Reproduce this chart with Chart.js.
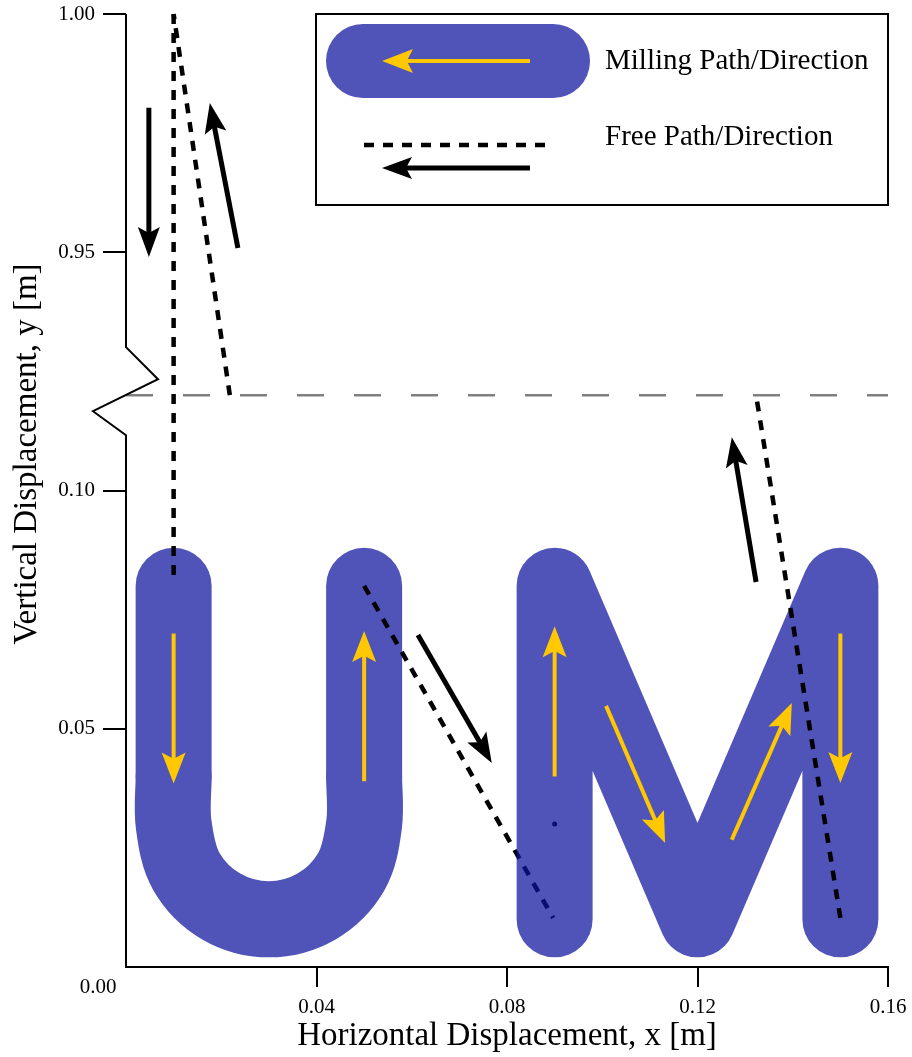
<!DOCTYPE html>
<html lang="en">
<head>
<meta charset="UTF-8">
<title>Milling path</title>
<script src="https://cdn.jsdelivr.net/npm/chart.js@4"></script>
<style>
  html, body { margin: 0; padding: 0; background: #fff; }
  canvas { display: block; }
</style>
</head>
<body>
<canvas id="myChart" width="912" height="1057"></canvas>
<script>
// y axis is broken: nothing is shown between 0.12 m and 0.92 m
const breakLow = 0.12;
const breakHigh = 0.92;

const xTicks = [0.04, 0.08, 0.12, 0.16];
const yTicks = [0.05, 0.10, 0.95, 1.00];

// milling path (x, y) in metres; the U is split into stems and the curved bottom
const uLeft = [[0.01, 0.08], [0.01, 0.04]];
const uBottom = [[0.01, 0.04], [0.01, 0.03], [0.0127, 0.02], [0.02, 0.0127], [0.03, 0.01],
                 [0.04, 0.0127], [0.0473, 0.02], [0.05, 0.03], [0.05, 0.04]];
const uRight = [[0.05, 0.04], [0.05, 0.08]];
const mPath = [[0.09, 0.01], [0.09, 0.08], [0.12, 0.01], [0.15, 0.08], [0.15, 0.01]];

// free (non cutting) moves
const freeDown = [[0.01, 1.00], [0.01, 0.082]];
const freeUtoM = [[0.05, 0.080], [0.0897, 0.0103]];
const freeBackLow = [[0.15, 0.0103], [0.1323, 0.12]];
const freeBackHigh = [[0.0218, 0.92], [0.01, 1.00]];
const strayDot = [[0.09, 0.03]];

// direction arrows: [x0, y0, x1, y1], head at x1/y1
const millArrows = [
  [0.01, 0.070, 0.01, 0.0385],
  [0.05, 0.039, 0.05, 0.0705],
  [0.09, 0.040, 0.09, 0.0715],
  [0.1008, 0.0548, 0.1132, 0.026],
  [0.1272, 0.0267, 0.1398, 0.0554],
  [0.15, 0.070, 0.15, 0.0386]
];
const freeArrows = [
  [0.0048, 0.9803, 0.0048, 0.949],
  [0.0235, 0.9509, 0.0176, 0.9813],
  [0.0613, 0.0697, 0.0768, 0.0428],
  [0.1323, 0.0808, 0.1272, 0.1112]
];

const legendLabels = ['Milling Path/Direction', 'Free Path/Direction'];
const yTitle = 'Vertical Displacement, y [m]';

const millSolid = 'rgb(80, 83, 183)';
const millColor = 'rgba(12, 16, 155, 0.72)';   // same tint on white, lets lines below show through
const arrowYellow = '#ffc800';
const serif = '"Liberation Serif", "DejaVu Serif", serif';

function toPlot(y) { return y >= breakHigh ? y - (breakHigh - breakLow) : y; }
function fromPlot(v) { return v > breakLow + 1e-9 ? v + (breakHigh - breakLow) : v; }
function pts(arr) { return arr.map(([x, y]) => ({ x: x, y: toPlot(y) })); }

function dashed(arr) {
  return { data: pts(arr), showLine: true, borderColor: '#000', borderWidth: 4.5,
           borderDash: [10, 9], pointRadius: 0, clip: false };
}

function milled(arr, color, tension) {
  return { data: pts(arr), showLine: true, borderColor: color, borderWidth: 76, tension: tension || 0,
           borderCapStyle: 'round', borderJoinStyle: 'round', pointRadius: 0, clip: false };
}

function drawArrow(ctx, x0, y0, x1, y1, color, lw, headLen, headW) {
  const len = Math.hypot(x1 - x0, y1 - y0);
  const ux = (x1 - x0) / len, uy = (y1 - y0) / len;
  const px = -uy, py = ux;
  ctx.save();
  ctx.strokeStyle = color;
  ctx.fillStyle = color;
  ctx.lineWidth = lw;
  ctx.lineCap = 'butt';
  ctx.setLineDash([]);
  ctx.beginPath();
  ctx.moveTo(x0, y0);
  ctx.lineTo(x1 - ux * headLen * 0.7, y1 - uy * headLen * 0.7);
  ctx.stroke();
  ctx.beginPath();
  ctx.moveTo(x1, y1);
  ctx.lineTo(x1 - ux * headLen + px * headW / 2, y1 - uy * headLen + py * headW / 2);
  ctx.lineTo(x1 - ux * headLen * 0.8, y1 - uy * headLen * 0.8);
  ctx.lineTo(x1 - ux * headLen - px * headW / 2, y1 - uy * headLen - py * headW / 2);
  ctx.closePath();
  ctx.fill();
  ctx.restore();
}

const extras = {
  id: 'extras',
  afterDatasetsDraw(chart) {
    const ctx = chart.ctx;
    const xs = chart.scales.x, ys = chart.scales.y;
    const X = v => xs.getPixelForValue(v);
    const Y = v => ys.getPixelForValue(toPlot(v));

    millArrows.forEach(a => drawArrow(ctx, X(a[0]), Y(a[1]), X(a[2]), Y(a[3]), arrowYellow, 4, 31, 24));
    freeArrows.forEach(a => drawArrow(ctx, X(a[0]), Y(a[1]), X(a[2]), Y(a[3]), '#000', 5, 30, 22));

    // y axis line with the break zigzag
    const area = chart.chartArea;
    const xb = area.left;
    const yb = ys.getPixelForValue(breakLow);
    ctx.save();
    ctx.strokeStyle = '#000';
    ctx.lineWidth = 2;
    ctx.lineJoin = 'miter';
    ctx.beginPath();
    ctx.moveTo(xb, area.bottom);
    ctx.lineTo(xb, yb + 40);
    ctx.lineTo(xb - 33, yb + 16);
    ctx.lineTo(xb + 32, yb - 16);
    ctx.lineTo(xb, yb - 48);
    ctx.lineTo(xb, area.top);
    ctx.stroke();

    // origin label sits below the corner
    ctx.fillStyle = '#000';
    ctx.font = '21px ' + serif;
    ctx.textAlign = 'center';
    ctx.textBaseline = 'middle';
    ctx.fillText('0.00', xb - 28, area.bottom + 20);

    // y axis title, placed a little above the middle as in the original
    ctx.save();
    ctx.translate(27, 454);
    ctx.rotate(-Math.PI / 2);
    ctx.font = '33px ' + serif;
    ctx.fillText(yTitle, 0, 0);
    ctx.restore();

    // legend
    const lx = 316, ly = area.top, lw = area.right - 316, lh = 191;
    ctx.fillStyle = '#fff';
    ctx.fillRect(lx, ly, lw, lh);
    ctx.lineWidth = 2;
    ctx.strokeRect(lx, ly, lw, lh);

    ctx.strokeStyle = millSolid;
    ctx.lineWidth = 74;
    ctx.lineCap = 'round';
    ctx.beginPath();
    ctx.moveTo(lx + 47, ly + 47);
    ctx.lineTo(lx + 237, ly + 47);
    ctx.stroke();
    drawArrow(ctx, lx + 214, ly + 47, lx + 66, ly + 47, arrowYellow, 4, 31, 24);

    ctx.strokeStyle = '#000';
    ctx.lineWidth = 4.5;
    ctx.lineCap = 'butt';
    ctx.setLineDash([10, 9]);
    ctx.beginPath();
    ctx.moveTo(lx + 48, ly + 131);
    ctx.lineTo(lx + 230, ly + 131);
    ctx.stroke();
    ctx.setLineDash([]);
    drawArrow(ctx, lx + 214, ly + 154, lx + 66, ly + 154, '#000', 5, 30, 22);

    ctx.fillStyle = '#000';
    ctx.font = '29px ' + serif;
    ctx.textAlign = 'left';
    ctx.textBaseline = 'middle';
    ctx.fillText(legendLabels[0], lx + 289, ly + 47);
    ctx.fillText(legendLabels[1], lx + 289, ly + 123);
    ctx.restore();
  }
};

const ctx = document.getElementById('myChart').getContext('2d');
const myChart = new Chart(ctx, {
  type: 'scatter',
  data: {
    datasets: [
      Object.assign(dashed(freeDown), { order: 1 }),
      Object.assign(dashed(freeBackLow), { order: 1 }),
      Object.assign(dashed(freeBackHigh), { order: 1 }),
      { data: [{ x: 0, y: breakLow }, { x: 0.16, y: breakLow }], showLine: true,
        borderColor: '#808080', borderWidth: 2.5, borderDash: [27, 30], pointRadius: 0, order: 2 },
      Object.assign(milled(mPath, millColor), { order: 4 }),
      Object.assign(dashed(freeUtoM), { order: 5 }),
      { data: pts(strayDot), pointRadius: 2.5, pointBackgroundColor: '#000', pointBorderWidth: 0, order: 5 },
      Object.assign(milled(uLeft, millSolid), { order: 6 }),
      Object.assign(milled(uBottom, millSolid, 0.35), { order: 6 }),
      Object.assign(milled(uRight, millSolid), { order: 6 })
    ]
  },
  options: {
    responsive: false,
    animation: false,
    devicePixelRatio: 1,
    layout: { padding: { top: 14, right: 24, left: 0, bottom: 0 } },
    plugins: { legend: { display: false }, tooltip: { enabled: false } },
    scales: {
      x: {
        type: 'linear', min: 0, max: 0.16,
        afterFit: s => { s.height = 90; s.paddingLeft = 0; s.paddingRight = 0; },
        afterBuildTicks: s => { s.ticks = xTicks.map(v => ({ value: v })); },
        ticks: { callback: v => v.toFixed(2), color: '#000', padding: 8,
                 font: { family: serif, size: 21 }, maxRotation: 0 },
        grid: { drawOnChartArea: false, tickLength: 20, color: '#000', lineWidth: 2 },
        border: { display: true, color: '#000', width: 2 },
        title: { display: true, text: 'Horizontal Displacement, x [m]', color: '#000',
                 font: { family: serif, size: 33 }, padding: { top: 0, bottom: 1 } }
      },
      y: {
        type: 'linear', min: 0, max: 0.2,
        afterFit: s => { s.width = 126; s.paddingTop = 0; s.paddingBottom = 0; },
        afterBuildTicks: s => { s.ticks = yTicks.map(v => ({ value: toPlot(v) })); },
        ticks: { callback: v => fromPlot(v).toFixed(2), color: '#000', padding: 8,
                 font: { family: serif, size: 21 } },
        grid: { drawOnChartArea: false, tickLength: 23, color: '#000', lineWidth: 2 },
        border: { display: false }
      }
    }
  },
  plugins: [extras]
});
</script>
</body>
</html>
